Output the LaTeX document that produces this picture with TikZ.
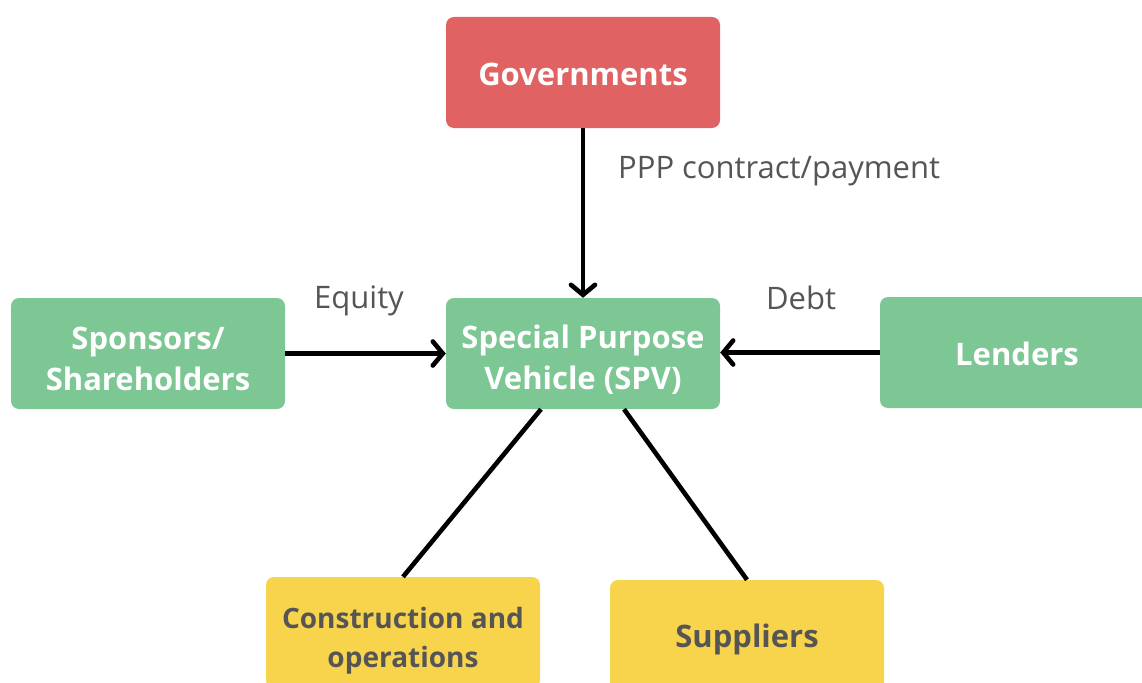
\documentclass[tikz,border=0pt]{standalone}
\usepackage{fontspec}
\setmainfont{Open Sans}
\usetikzlibrary{arrows.meta}
\definecolor{redbox}{HTML}{E06262}
\definecolor{greenbox}{HTML}{7DC795}
\definecolor{yellowbox}{HTML}{F7D44C}
\definecolor{txtgray}{HTML}{555555}
\newcommand\lowtext[2]{\raisebox{-#1}[\height][\depth]{\parbox{274pt}{\centering #2}}}
\tikzset{
  box/.style={rounded corners=8pt, minimum width=274pt, minimum height=111pt, inner sep=0pt, align=center,
    font=\fontsize{31}{41}\selectfont\bfseries, anchor=center},
  redb/.style={box, fill=redbox, text=white},
  greenb/.style={box, fill=greenbox, text=white},
  yellowb/.style={box, fill=yellowbox, text=txtgray},
  conn/.style={line width=4.6pt, black},
  arr/.style={conn, -{Straight Barb[length=10pt,width=24pt,line cap=round]}},
  lbl/.style={font=\fontsize{31}{36}\selectfont, text=txtgray, inner sep=0pt}
}
\begin{document}
\begin{tikzpicture}[x=1pt,y=-1pt]
\useasboundingbox (0,0) rectangle (1142,682);
\clip (0,0) rectangle (1142,682);
\coordinate (gtop) at (583,17);
\draw[conn] (gtop) -- (583,40);
\node[redb] (gov) at (583,72.5) {\lowtext{2pt}{Governments}};
\node[greenb] (spv) at (583,353.5) {\lowtext{6pt}{Special Purpose\\Vehicle (SPV)}};
\node[greenb] (spons) at (148,353.5) {\lowtext{5pt}{Sponsors/\\Shareholders}};
\node[greenb] (lend) at (1017,352.5) {\lowtext{1pt}{Lenders}};
\node[yellowb] (cons) at (403,632.5) {\lowtext{8pt}{\fontsize{28}{39}\selectfont Construction and\\operations}};
\node[yellowb] (supp) at (747,635.5) {\lowtext{4pt}{Suppliers}};
\draw[arr] (gov.south) -- (spv.north);
\draw[arr] (spons.east) -- (spv.west);
\draw[arr] (lend.west) -- (spv.east |- lend.west);
\draw[conn] (spv.south -| 541,0) -- (cons.north);
\draw[conn] (spv.south -| 624,0) -- (supp.north);
\node[lbl, anchor=west] (ppp) at (618,171) {PPP contract/payment};
\node[lbl] (eq) at (359,301) {Equity};
\node[lbl] (debt) at (801,298) {Debt};
\end{tikzpicture}
\end{document}
